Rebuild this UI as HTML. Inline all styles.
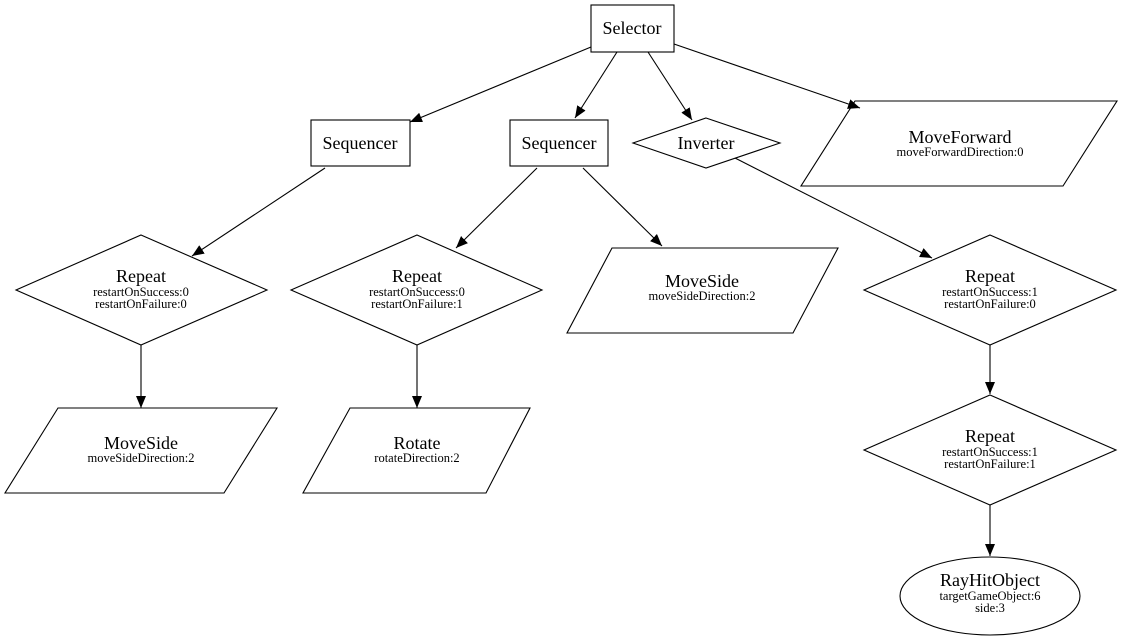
<!DOCTYPE html>
<html><head><meta charset="utf-8"><style>
html,body{margin:0;padding:0;background:#fff;}
svg{display:block;}
text{font-family:"Liberation Serif",serif;fill:#000;}
.t{font-size:18px;}
.s{font-size:12.5px;}
</style></head><body>
<svg width="1125" height="639" viewBox="0 0 1125 639" xmlns="http://www.w3.org/2000/svg">
<defs>
<marker id="a" markerWidth="12" markerHeight="10" refX="12" refY="5" orient="auto" markerUnits="userSpaceOnUse">
<path d="M0,0 L12,5 L0,10 Z" fill="#000"/>
</marker>
</defs>
<g fill="none" stroke="#000" stroke-width="1.1">
<rect x="591" y="5" width="83" height="47" fill="#fff"/>
<rect x="311" y="120" width="99" height="46" fill="#fff"/>
<rect x="510" y="120" width="98" height="46" fill="#fff"/>
<polygon points="706,118 780,143 706,168 633,143"/>
<polygon points="855,101 1117,101 1063,186 801,186"/>
<polygon points="141,235 267,290 141,345 16,290"/>
<polygon points="417,235 542,290 417,345 291,290"/>
<polygon points="612,248 838,248 793,333 567,333"/>
<polygon points="990,235 1116,290 990,345 864,290"/>
<polygon points="58,408 277,408 224,493 5,493"/>
<polygon points="350,408 530,408 486,493 303,493"/>
<polygon points="990,395 1116,450 990,505 864,450"/>
<ellipse cx="990" cy="596" rx="90" ry="39"/>
<line x1="591" y1="47" x2="410" y2="122" marker-end="url(#a)"/>
<line x1="617" y1="52" x2="575" y2="118" marker-end="url(#a)"/>
<line x1="648" y1="52" x2="692" y2="120" marker-end="url(#a)"/>
<line x1="674" y1="44" x2="860" y2="108" marker-end="url(#a)"/>
<line x1="325" y1="168" x2="192" y2="256" marker-end="url(#a)"/>
<line x1="537" y1="168" x2="456" y2="248" marker-end="url(#a)"/>
<line x1="583" y1="168" x2="662" y2="246" marker-end="url(#a)"/>
<line x1="735" y1="158" x2="932" y2="258" marker-end="url(#a)"/>
<line x1="141" y1="345" x2="141" y2="408" marker-end="url(#a)"/>
<line x1="417" y1="345" x2="417" y2="408" marker-end="url(#a)"/>
<line x1="990" y1="345" x2="990" y2="394" marker-end="url(#a)"/>
<line x1="990" y1="505" x2="990" y2="556" marker-end="url(#a)"/>
</g>
<g text-anchor="middle">
<text class="t" x="632" y="34">Selector</text>
<text class="t" x="360" y="149">Sequencer</text>
<text class="t" x="559" y="149">Sequencer</text>
<text class="t" x="706" y="149">Inverter</text>
<text class="t" x="960" y="143">MoveForward</text>
<text class="s" x="960" y="156">moveForwardDirection:0</text>
<text class="t" x="141" y="282">Repeat</text>
<text class="s" x="141" y="296">restartOnSuccess:0</text>
<text class="s" x="141" y="308">restartOnFailure:0</text>
<text class="t" x="417" y="282">Repeat</text>
<text class="s" x="417" y="296">restartOnSuccess:0</text>
<text class="s" x="417" y="308">restartOnFailure:1</text>
<text class="t" x="702" y="287">MoveSide</text>
<text class="s" x="702" y="300">moveSideDirection:2</text>
<text class="t" x="990" y="282">Repeat</text>
<text class="s" x="990" y="296">restartOnSuccess:1</text>
<text class="s" x="990" y="308">restartOnFailure:0</text>
<text class="t" x="141" y="449">MoveSide</text>
<text class="s" x="141" y="462">moveSideDirection:2</text>
<text class="t" x="417" y="449">Rotate</text>
<text class="s" x="417" y="462">rotateDirection:2</text>
<text class="t" x="990" y="442">Repeat</text>
<text class="s" x="990" y="456">restartOnSuccess:1</text>
<text class="s" x="990" y="468">restartOnFailure:1</text>
<text class="t" x="990" y="586">RayHitObject</text>
<text class="s" x="990" y="600">targetGameObject:6</text>
<text class="s" x="990" y="612">side:3</text>
</g>
</svg>
</body></html>
